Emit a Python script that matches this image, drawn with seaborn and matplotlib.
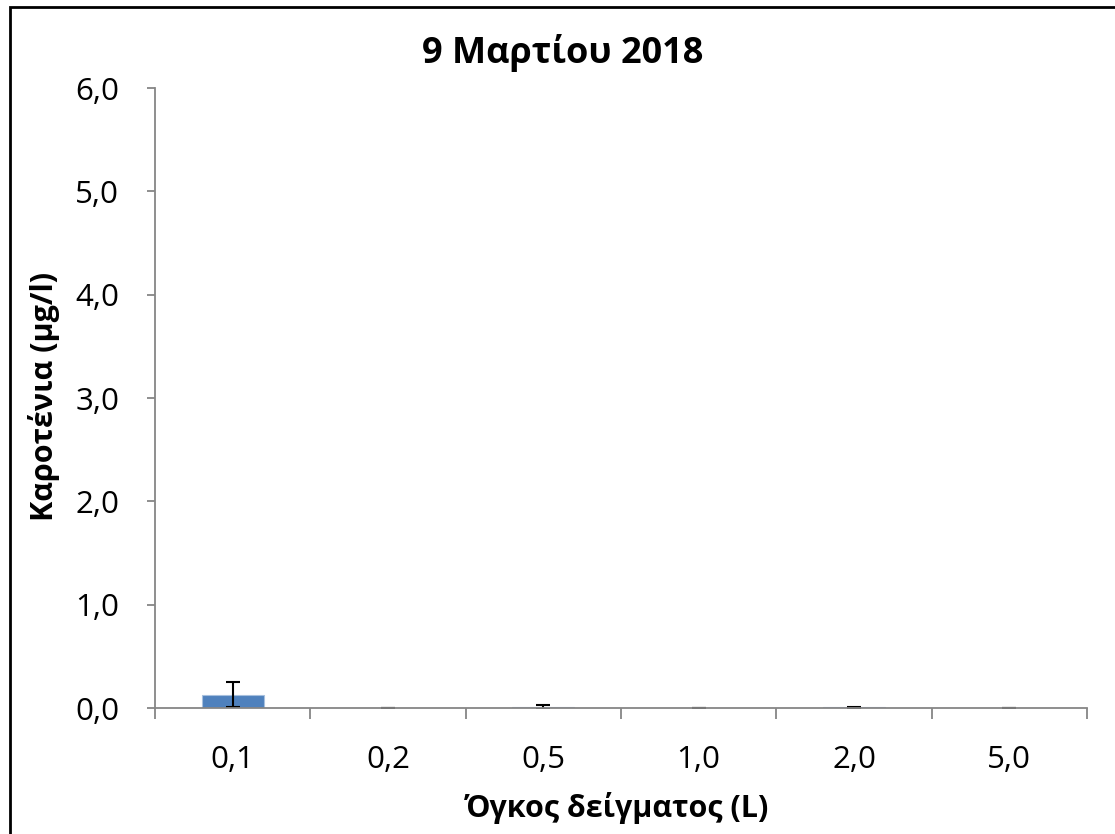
import matplotlib
matplotlib.use("Agg")
import matplotlib.pyplot as plt
import seaborn as sns
import pandas as pd
from matplotlib.patches import Rectangle

categories = ["0,1", "0,2", "0,5", "1,0", "2,0", "5,0"]
values = [0.13, 0.001, 0.01, 0.001, 0.005, 0.001]
errors = [0.12, 0.003, 0.015, 0.002, 0.004, 0.002]
yticks = [0, 1, 2, 3, 4, 5, 6]
ytick_labels = ["0,0", "1,0", "2,0", "3,0", "4,0", "5,0", "6,0"]
title = "9 Μαρτίου 2018"
xlabel = "Όγκος δείγματος (L)"
ylabel = "Καροτένια (μg/l)"

sns.set_theme(style="white")
plt.rcParams['font.family'] = ['Open Sans', 'DejaVu Sans']

fig = plt.figure(figsize=(11.15, 8.34), dpi=100)
ax = fig.add_axes([155 / 1115, 1 - 708 / 834, 932 / 1115, 620 / 834])

df = pd.DataFrame({"cat": categories, "val": values})
sns.barplot(data=df, x="cat", y="val", color="#4F81BD", width=0.4,
            edgecolor="#A7C0DE", linewidth=0.8, saturation=1, ax=ax, errorbar=None)
ax.errorbar(range(len(categories)), values, yerr=errors, fmt="none",
            ecolor="black", elinewidth=1.5, capsize=4.7, capthick=1.5)

ax.set_ylim(0, 6)
ax.set_xlim(-0.5, len(categories) - 0.5)
ax.set_yticks(yticks)
ax.set_yticklabels(ytick_labels, fontsize=22.5, color="black")
ax.set_xticks(range(len(categories)))
ax.set_xticklabels(categories, fontsize=22.5, color="black")
ax.tick_params(axis="x", length=0, pad=27)
ax.tick_params(axis="y", length=5.8, width=1.3, color="#868686", left=True, pad=20)
# category boundary ticks on x axis
ax.set_xticks([i - 0.5 for i in range(len(categories) + 1)], minor=True)
ax.tick_params(axis="x", which="minor", length=8, width=1.3, color="#868686", bottom=True)

for s in ["top", "right"]:
    ax.spines[s].set_visible(False)
for s in ["left", "bottom"]:
    ax.spines[s].set_color("#868686")
    ax.spines[s].set_linewidth(1.3)

ax.set_xlabel(xlabel, fontsize=22, fontweight="bold", va="center", color="black")
ax.set_ylabel(ylabel, fontsize=22, fontweight="bold", va="center", color="black")
ax.xaxis.set_label_coords(0.496, -0.161)
ax.yaxis.set_label_coords(-0.119, 0.503)
fig.text(563 / 1115, 1 - 53 / 834, title, fontsize=26, fontweight="bold",
         ha="center", va="center", color="black")

fig.patches.append(Rectangle((10 / 1115, -0.1), 1.2, 1 - 7 / 834 + 0.1,
                             transform=fig.transFigure, fill=False,
                             edgecolor="black", linewidth=2, zorder=10))

fig.savefig("out.png", dpi=100)
